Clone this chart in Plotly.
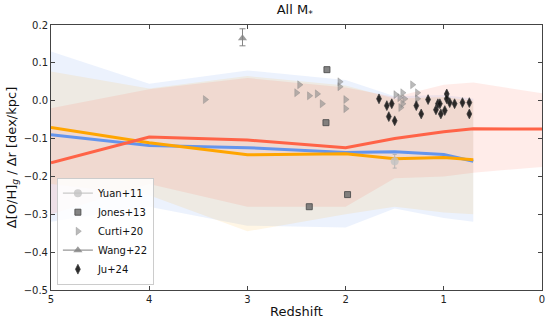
import plotly.graph_objects as go

# model redshift nodes
z_mod = [5, 4, 3, 2, 1.5, 1, 0.7]
z_red = [5, 4, 3, 2, 1.5, 1, 0.7, 0]

blue_med = [-0.090, -0.118, -0.124, -0.137, -0.135, -0.142, -0.160]
blue_hi = [0.130, 0.045, 0.080, 0.055, 0.012, 0.015, 0.005]
blue_lo = [-0.320, -0.280, -0.330, -0.335, -0.285, -0.310, -0.320]

orange_med = [-0.071, -0.111, -0.143, -0.140, -0.153, -0.150, -0.156]
orange_hi = [0.077, 0.032, 0.065, 0.040, 0.005, 0.010, 0.000]
orange_lo = [-0.220, -0.250, -0.345, -0.300, -0.280, -0.295, -0.300]

red_med = [-0.164, -0.096, -0.104, -0.124, -0.100, -0.082, -0.074, -0.075]
red_hi = [-0.020, 0.030, 0.060, 0.035, 0.010, 0.042, 0.048, 0.020]
red_lo = [-0.300, -0.220, -0.280, -0.280, -0.205, -0.200, -0.190, -0.175]

# observations
yuan_z = [1.5]
yuan_g = [-0.16]
yuan_err = [0.018]

jones_z = [2.19, 2.20, 1.98, 2.37]
jones_g = [0.082, -0.058, -0.248, -0.280]

curti_z = [3.43, 2.47, 2.50, 2.37, 2.29, 2.24, 2.06, 2.06, 2.00, 2.00,
           1.32, 1.49, 1.42, 1.45, 1.40, 1.42, 1.27, 1.27, 1.44]
curti_g = [0.003, 0.042, 0.021, 0.013, 0.018, -0.008, 0.050, 0.037, 0.003, -0.021,
           0.042, 0.016, 0.021, 0.008, 0.005, -0.008, 0.021, 0.005, -0.018]

wang_z = [3.05]
wang_g = [0.165]
wang_err_up = [0.025]
wang_err_dn = [0.020]

ju_z = [1.66, 1.58, 1.53, 1.56, 1.50, 1.28, 1.23, 1.16, 1.08, 1.06, 1.04,
        1.03, 0.99, 0.97, 0.94, 0.89, 0.81, 0.74, 0.74, 0.97]
ju_g = [0.005, -0.013, -0.008, -0.042, -0.053, -0.013, -0.035, 0.003, -0.024, -0.008, -0.008,
        -0.035, -0.026, 0.018, -0.005, -0.008, -0.005, -0.005, -0.035, 0.005]

fig = go.Figure()

# shaded ranges
bands = [
    (z_mod, blue_lo, blue_hi, "rgba(100,149,237,0.12)"),
    (z_mod, orange_lo, orange_hi, "rgba(255,165,0,0.10)"),
    (z_red, red_lo, red_hi, "rgba(255,99,71,0.12)"),
]
for zz, lo, hi, col in bands:
    fig.add_trace(go.Scatter(x=zz, y=lo, mode="lines", line=dict(width=0),
                             showlegend=False, hoverinfo="skip"))
    fig.add_trace(go.Scatter(x=zz, y=hi, mode="lines", line=dict(width=0),
                             fill="tonexty", fillcolor=col,
                             showlegend=False, hoverinfo="skip"))

# median lines
for zz, med, col in [(z_mod, blue_med, "#6495ED"),
                     (z_mod, orange_med, "#FFA500"),
                     (z_red, red_med, "#FF6347")]:
    fig.add_trace(go.Scatter(x=zz, y=med, mode="lines", line=dict(color=col, width=3),
                             showlegend=False))

fig.add_trace(go.Scatter(
    name="Yuan+11", x=yuan_z, y=yuan_g, mode="lines+markers",
    marker=dict(symbol="circle", size=8, color="rgba(195,195,195,0.8)"),
    line=dict(color="rgba(195,195,195,0.9)", width=1.2),
    error_y=dict(type="data", array=yuan_err, color="rgba(170,170,170,0.8)",
                 thickness=1, width=2)))

fig.add_trace(go.Scatter(
    name="Jones+13", x=jones_z, y=jones_g, mode="markers",
    marker=dict(symbol="square", size=6, color="rgba(110,110,110,0.85)",
                line=dict(color="rgba(80,80,80,0.9)", width=1))))

fig.add_trace(go.Scatter(
    name="Curti+20", x=curti_z, y=curti_g, mode="markers",
    marker=dict(symbol="triangle-right", size=7, color="rgba(140,140,140,0.6)",
                line=dict(color="rgba(120,120,120,0.6)", width=0.5))))

fig.add_trace(go.Scatter(
    name="Wang+22", x=wang_z, y=wang_g, mode="lines+markers",
    marker=dict(symbol="triangle-up", size=8, color="rgba(130,130,130,0.8)"),
    line=dict(color="rgba(140,140,140,0.9)", width=1.2),
    error_y=dict(type="data", symmetric=False, array=wang_err_up, arrayminus=wang_err_dn,
                 color="rgba(120,120,120,0.9)", thickness=1, width=3)))

fig.add_trace(go.Scatter(
    name="Ju+24", x=ju_z, y=ju_g, mode="markers",
    marker=dict(symbol="diamond-tall", size=7, color="rgba(20,20,20,0.9)",
                line=dict(color="rgba(60,60,60,0.9)", width=0.8))))

axis_common = dict(showgrid=False, zeroline=False, showline=True, linecolor="#444",
                   linewidth=1, mirror="ticks", ticks="inside", ticklen=4,
                   tickcolor="#444", tickfont=dict(size=10, color="#222"))

fig.update_layout(
    width=556, height=327,
    margin=dict(l=51, r=11, t=25, b=37),
    paper_bgcolor="white", plot_bgcolor="white",
    font=dict(family="DejaVu Sans", color="#111"),
    title=dict(text="All M<sub>*</sub>", x=0.53, xanchor="center", y=0.985,
               yanchor="top", font=dict(size=13)),
    xaxis=dict(range=[5, 0], tickvals=[5, 4, 3, 2, 1, 0],
               title=dict(text="Redshift", font=dict(size=13), standoff=2),
               **axis_common),
    yaxis=dict(range=[-0.5, 0.2], dtick=0.1, tickformat=".1f",
               title=dict(text="Δ[O/H]<sub><i>g</i></sub> / Δr [dex/kpc]",
                          font=dict(size=13), standoff=4),
               **axis_common),
    legend=dict(x=0.012, y=0.02, xanchor="left", yanchor="bottom",
                traceorder="normal",
                bgcolor="rgba(255,255,255,0.85)", bordercolor="#ccc", borderwidth=1,
                font=dict(size=10), tracegroupgap=0, itemwidth=30),
)

fig.write_html("out.html", config={"displayModeBar": False},
               post_script="document.body.style.margin='0';")
